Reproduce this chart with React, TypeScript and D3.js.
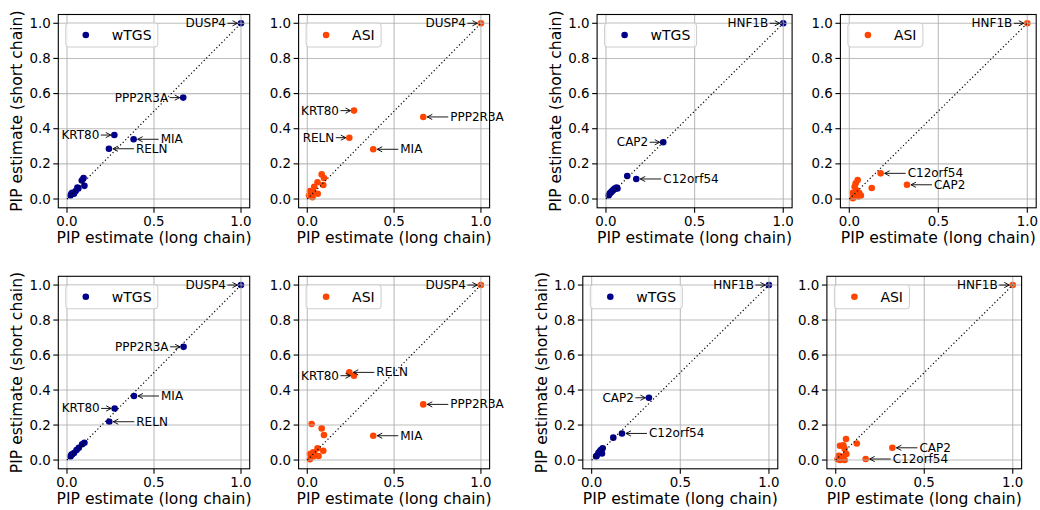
import * as d3 from 'd3';

// [long chain PIP, short chain PIP, gene, label side]
type Pt = [number, number, string?, string?];

const cluster1: Pt[] = [
  [0.02, 0.02], [0.025, 0.03], [0.03, 0.035], [0.04, 0.03], [0.05, 0.045],
  [0.06, 0.065], [0.065, 0.06], [0.085, 0.105], [0.095, 0.12], [0.1, 0.075],
];

const topWtgsA: Pt[] = [
  [1.0, 1.0, 'DUSP4', 'l'], [0.668, 0.577, 'PPP2R3A', 'l'], [0.272, 0.364, 'KRT80', 'l'],
  [0.383, 0.34, 'MIA', 'r'], [0.241, 0.286, 'RELN', 'r'], ...cluster1,
];

const topAsiA: Pt[] = [
  [1.0, 1.0, 'DUSP4', 'l'], [0.269, 0.503, 'KRT80', 'l'], [0.668, 0.467, 'PPP2R3A', 'r'],
  [0.242, 0.349, 'RELN', 'l'], [0.38, 0.283, 'MIA', 'r'],
  [0.083, 0.14], [0.096, 0.12], [0.059, 0.095], [0.092, 0.08], [0.04, 0.07],
  [0.015, 0.045], [0.034, 0.042], [0.06, 0.03], [0.03, 0.01], [0.01, 0.02],
];

const topWtgsB: Pt[] = [
  [1.0, 1.0, 'HNF1B', 'l'], [0.323, 0.323, 'CAP2', 'l'], [0.12, 0.131],
  [0.171, 0.114, 'C12orf54', 'r'],
  [0.015, 0.02], [0.02, 0.03], [0.025, 0.035], [0.03, 0.04], [0.035, 0.045], [0.04, 0.05],
  [0.045, 0.055], [0.05, 0.06], [0.055, 0.06], [0.06, 0.065], [0.065, 0.06],
];

const topAsiB: Pt[] = [
  [1.0, 1.0, 'HNF1B', 'l'], [0.176, 0.146, 'C12orf54', 'r'], [0.324, 0.081, 'CAP2', 'r'],
  [0.126, 0.063],
  [0.047, 0.108], [0.036, 0.09], [0.03, 0.07], [0.04, 0.05], [0.02, 0.035], [0.055, 0.035],
  [0.065, 0.02], [0.02, 0.005], [0.05, 0.015], [0.025, 0.02],
];

const botWtgsA: Pt[] = [
  [1.0, 1.0, 'DUSP4', 'l'], [0.67, 0.647, 'PPP2R3A', 'l'], [0.385, 0.366, 'MIA', 'r'],
  [0.274, 0.295, 'KRT80', 'l'], [0.243, 0.219, 'RELN', 'r'],
  [0.1, 0.099], [0.087, 0.09], [0.068, 0.07], [0.055, 0.057], [0.03, 0.033], [0.02, 0.02],
  [0.04, 0.04], [0.025, 0.03],
];

const botAsiA: Pt[] = [
  [1.0, 1.0, 'DUSP4', 'l'], [0.269, 0.482, 'KRT80', 'l'], [0.242, 0.501, 'RELN', 'r'],
  [0.668, 0.318, 'PPP2R3A', 'r'], [0.38, 0.139, 'MIA', 'r'],
  [0.025, 0.206], [0.083, 0.181], [0.096, 0.143], [0.059, 0.067], [0.092, 0.053],
  [0.065, 0.023], [0.034, 0.045], [0.015, 0.035], [0.04, 0.038], [0.015, 0.005], [0.034, 0.02],
];

const botWtgsB: Pt[] = [
  [1.0, 1.0, 'HNF1B', 'l'], [0.323, 0.356, 'CAP2', 'l'], [0.171, 0.152, 'C12orf54', 'r'],
  [0.122, 0.128],
  [0.062, 0.067], [0.052, 0.057], [0.045, 0.048], [0.058, 0.038], [0.038, 0.04],
  [0.028, 0.025], [0.025, 0.02],
];

const botAsiB: Pt[] = [
  [1.0, 1.0, 'HNF1B', 'l'], [0.32, 0.07, 'CAP2', 'r'], [0.169, 0.006, 'C12orf54', 'r'],
  [0.119, 0.095],
  [0.058, 0.12], [0.024, 0.082], [0.043, 0.085], [0.05, 0.065], [0.06, 0.035],
  [0.017, 0.025], [0.035, 0.02], [0.025, 0.0], [0.05, 0.0], [0.01, 0.005],
];

const xTicks = [0, 0.5, 1];
const yTicks = [0, 0.2, 0.4, 0.6, 0.8, 1];
const dark = '#00008b';
const orange = '#ff4500';
const font = 'DejaVu Sans, sans-serif';

const panels = [
  { pts: topWtgsA, color: dark, name: 'wTGS', left: 58.3, top: 14.5, w: 191.4, h: 193.3, ylab: true },
  { pts: topAsiA, color: orange, name: 'ASI', left: 298.6, top: 14.5, w: 191, h: 193.3, ylab: false },
  { pts: topWtgsB, color: dark, name: 'wTGS', left: 597.1, top: 14.5, w: 195, h: 193.3, ylab: true },
  { pts: topAsiB, color: orange, name: 'ASI', left: 840.4, top: 14.5, w: 195.8, h: 193.3, ylab: false },
  { pts: botWtgsA, color: dark, name: 'wTGS', left: 58.3, top: 276.3, w: 191.4, h: 192.5, ylab: true },
  { pts: botAsiA, color: orange, name: 'ASI', left: 298.6, top: 276.3, w: 191, h: 192.5, ylab: false },
  { pts: botWtgsB, color: dark, name: 'wTGS', left: 582.8, top: 276.3, w: 195, h: 192.5, ylab: true },
  { pts: botAsiB, color: orange, name: 'ASI', left: 826.9, top: 276.3, w: 194.7, h: 192.5, ylab: false },
];

function arrow(x1: number, x2: number, y: number) {
  // "->" style: line plus open head pointing at x2
  const d = x2 > x1 ? 1 : -1;
  return `M${x1},${y}L${x2},${y}M${x2 - d * 5},${y - 2.6}L${x2},${y}L${x2 - d * 5},${y + 2.6}`;
}

function Panel({ p }: { p: (typeof panels)[number] }) {
  const x = d3.scaleLinear().domain([-0.05, 1.05]).range([p.left, p.left + p.w]);
  const y = d3.scaleLinear().domain([-0.05, 1.05]).range([p.top + p.h, p.top]);
  const line = d3.line<number>().x((v) => x(v)).y((v) => y(v));
  const legW = p.name === 'wTGS' ? 92 : 75;
  const bottom = p.top + p.h;
  return (
    <g>
      <defs>
        <clipPath id={`c${p.left}-${p.top}`}>
          <rect x={p.left} y={p.top} width={p.w} height={p.h} />
        </clipPath>
      </defs>
      {p.pts.map((d, i) => (
        <circle key={i} cx={x(d[0])} cy={y(d[1])} r={3.3} fill={p.color} />
      ))}
      <g clipPath={`url(#c${p.left}-${p.top})`}>
        {xTicks.map((t) => (
          <line key={'gx' + t} x1={x(t)} x2={x(t)} y1={p.top} y2={bottom} stroke="#b0b0b0" strokeWidth={1.1} strokeOpacity={0.85} />
        ))}
        {yTicks.map((t) => (
          <line key={'gy' + t} x1={p.left} x2={p.left + p.w} y1={y(t)} y2={y(t)} stroke="#b0b0b0" strokeWidth={1.1} strokeOpacity={0.85} />
        ))}
      </g>
      <path d={line([0, 1]) || ''} stroke="#000" strokeWidth={1.2} strokeDasharray="1.2,2.4" fill="none" />
      {p.pts.filter((d) => d[2]).map((d) => {
        const px = x(d[0]);
        const py = y(d[1]);
        if (d[3] === 'l') {
          return (
            <g key={d[2]}>
              <path d={arrow(px - 13.5, px - 3.5, py)} stroke="#000" strokeWidth={0.9} fill="none" />
              <text x={px - 15} y={py} textAnchor="end" dominantBaseline="central" fontSize={12} fontFamily={font}>{d[2]}</text>
            </g>
          );
        }
        return (
          <g key={d[2]}>
            <path d={arrow(px + 25, px + 4, py)} stroke="#000" strokeWidth={0.9} fill="none" />
            <text x={px + 27} y={py} textAnchor="start" dominantBaseline="central" fontSize={12} fontFamily={font}>{d[2]}</text>
          </g>
        );
      })}
      <rect x={p.left} y={p.top} width={p.w} height={p.h} fill="none" stroke="#000" strokeWidth={1.1} />
      {xTicks.map((t) => (
        <g key={'tx' + t}>
          <line x1={x(t)} x2={x(t)} y1={bottom} y2={bottom + 5} stroke="#000" strokeWidth={1.1} />
          <text x={x(t)} y={bottom + 14} textAnchor="middle" dominantBaseline="central" fontSize={13.4} fontFamily={font}>{t.toFixed(1)}</text>
        </g>
      ))}
      {yTicks.map((t) => (
        <g key={'ty' + t}>
          <line x1={p.left - 5} x2={p.left} y1={y(t)} y2={y(t)} stroke="#000" strokeWidth={1.1} />
          <text x={p.left - 7.5} y={y(t)} textAnchor="end" dominantBaseline="central" fontSize={13.4} fontFamily={font}>{t.toFixed(1)}</text>
        </g>
      ))}
      <text x={p.left + p.w / 2} y={bottom + 30} textAnchor="middle" dominantBaseline="central" fontSize={15.6} fontFamily={font}>PIP estimate (long chain)</text>
      {p.ylab && (
        <text transform={`translate(${p.left - 41},${p.top + p.h / 2}) rotate(-90)`} textAnchor="middle" dominantBaseline="central" fontSize={15.6} fontFamily={font}>PIP estimate (short chain)</text>
      )}
      <rect x={p.left + 7.5} y={p.top + 8.5} width={legW} height={24} rx={3} fill="#fff" fillOpacity={0.8} stroke="#cccccc" strokeWidth={1} />
      <circle cx={p.left + 27.5} cy={p.top + 20.5} r={3.3} fill={p.color} />
      <text x={p.left + 53.5} y={p.top + 20.5} dominantBaseline="central" fontSize={14} fontFamily={font}>{p.name}</text>
    </g>
  );
}

export default function App() {
  return (
    <svg width={1040} height={510} style={{ position: 'absolute', left: 0, top: 0, background: '#fff' }}>
      {panels.map((p, i) => (
        <Panel key={i} p={p} />
      ))}
    </svg>
  );
}
